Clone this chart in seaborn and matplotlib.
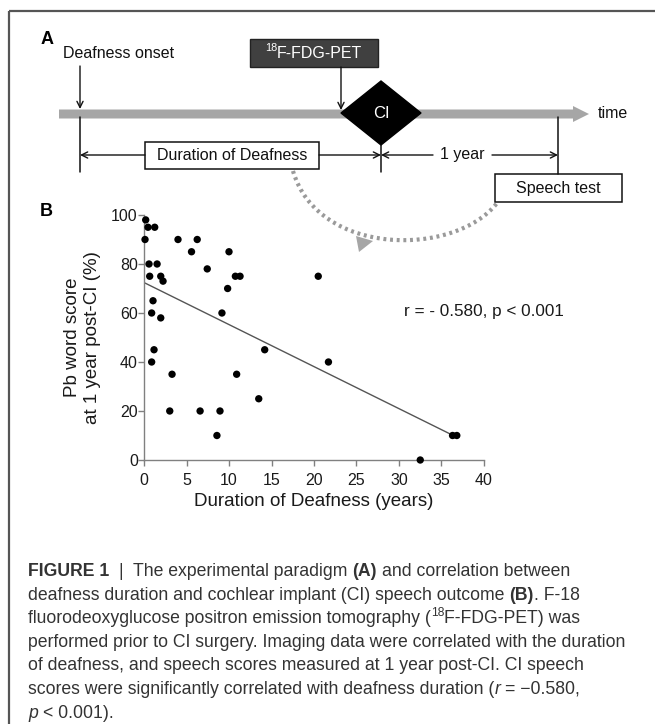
import numpy as np
import pandas as pd
import matplotlib
matplotlib.use("Agg")
import matplotlib.pyplot as plt
import seaborn as sns
from matplotlib.patches import Polygon, Rectangle, PathPatch
from matplotlib.path import Path

# ---------------- data ----------------
duration_years = [0.2, 0.47, 1.26, 0.12, 0.59, 1.54, 0.67, 1.97, 2.24, 1.06, 0.9, 1.97,
                  1.18, 0.9, 3.3, 3.03, 4.0, 6.26, 5.59, 7.44, 10.0, 9.84, 10.75, 11.3,
                  9.17, 10.9, 6.6, 8.94, 8.58, 14.2, 13.5, 20.5, 21.7, 36.3, 36.8, 32.5]
word_score = [98, 95, 95, 90, 80, 80, 75, 75, 73, 65, 60, 58,
              45, 40, 35, 20, 90, 90, 85, 78, 85, 70, 75, 75,
              60, 35, 20, 20, 10, 45, 25, 75, 40, 10, 10, 0]
x_ticks = [0, 5, 10, 15, 20, 25, 30, 35, 40]
y_ticks = [0, 20, 40, 60, 80, 100]
stat_label = "r = - 0.580, p < 0.001"

sns.set_theme(style="ticks")
plt.rcParams["font.family"] = ["Liberation Sans", "DejaVu Sans"]

W, H = 655, 724
fig = plt.figure(figsize=(W / 100, H / 100), dpi=100)
fig.patch.set_facecolor("white")

# overlay in pixel coordinates for the diagram / caption
ov = fig.add_axes([0, 0, 1, 1])
ov.set_xlim(0, W)
ov.set_ylim(H, 0)
ov.axis("off")

PX = 100 / 72.0  # px per pt
renderer = fig.canvas.get_renderer()


def draw_runs(x, y, runs, size, color):
    for txt, style in runs:
        lead = len(txt) - len(txt.lstrip(" "))
        trail = len(txt) - len(txt.rstrip(" "))
        core = txt.strip(" ")
        fs = size
        yy = y
        kw = {}
        if "b" in style:
            kw["fontweight"] = "bold"
        if "i" in style:
            kw["fontstyle"] = "italic"
        if "s" in style:
            fs = size * 0.68
            yy = y - size * PX * 0.42
        x += lead * 0.278 * fs * PX
        if core:
            t = ov.text(x, yy, core, fontsize=fs, color=color, ha="left",
                        va="baseline", **kw)
            bb = t.get_window_extent(renderer=renderer)
            x += bb.width
        x += trail * 0.278 * fs * PX
    return x


# outer frame (left and top)
ov.plot([9, 9], [11, H + 5], color="#555555", lw=1.6, solid_capstyle="butt")
ov.plot([9, W + 5], [11, 11], color="#555555", lw=1.6, solid_capstyle="butt")

# ---------------- panel A ----------------
txtc = "#111111"
ov.text(41, 40, "A", fontsize=13, fontweight="bold", va="center", ha="left", color="black")
ov.text(63, 54, "Deafness onset", fontsize=11.5, va="center", ha="left", color=txtc)

# timeline
band_half = 4.5
ov.add_patch(Polygon([[59, 114 - band_half], [573, 114 - band_half], [573, 106],
                      [589, 114], [573, 122], [573, 114 + band_half],
                      [59, 114 + band_half]], closed=True, facecolor="#a6a6a6",
                     edgecolor="none"))
ov.text(598, 113, "time", fontsize=11.5, va="center", ha="left", color=txtc)

arrow_kw = dict(arrowstyle="->", lw=1.0, color="#111111", shrinkA=0, shrinkB=0,
                mutation_scale=11)
ov.annotate("", xy=(80, 109), xytext=(80, 66), arrowprops=arrow_kw)

# PET box
ov.add_patch(Rectangle((250, 39), 128, 28, facecolor="#404040", edgecolor="#222222", lw=1))
draw_runs(265, 58, [("18", "s"), ("F-FDG-PET", "")], 11.5, "white")
ov.annotate("", xy=(341, 110), xytext=(341, 67), arrowprops=arrow_kw)

# CI diamond
cx, cy = 381, 113
ov.add_patch(Polygon([[cx - 40, cy], [cx, cy - 32], [cx + 40, cy], [cx, cy + 32]],
                     closed=True, facecolor="black", edgecolor="black"))
ov.text(cx, cy, "CI", fontsize=12, color="white", ha="center", va="center")

# vertical markers
ov.plot([80, 80], [117, 172], color="#111111", lw=1.1)
ov.plot([381, 381], [145, 172], color="#111111", lw=1.1)
ov.plot([558, 558], [117, 174], color="#111111", lw=1.1)

# duration arrows
ov.annotate("", xy=(80, 155), xytext=(145, 155), arrowprops=arrow_kw)
ov.annotate("", xy=(381, 155), xytext=(319, 155), arrowprops=arrow_kw)
ov.annotate("", xy=(381, 155), xytext=(433, 155), arrowprops=arrow_kw)
ov.annotate("", xy=(558, 155), xytext=(492, 155), arrowprops=arrow_kw)
ov.add_patch(Rectangle((145, 142), 174, 27, facecolor="white", edgecolor="#111111", lw=1.1))
ov.text(232, 155.5, "Duration of Deafness", fontsize=11.5, ha="center", va="center", color=txtc)
ov.text(462, 155, "1 year", fontsize=11.5, ha="center", va="center", color=txtc)

ov.add_patch(Rectangle((495, 174), 127, 28, facecolor="white", edgecolor="#111111", lw=1.1))
ov.text(558.5, 188, "Speech test", fontsize=11.5, ha="center", va="center", color=txtc)

# dotted curved arrow
verts = [(293, 171), (318, 257), (455, 257), (497, 203)]
path = Path(verts, [Path.MOVETO, Path.CURVE4, Path.CURVE4, Path.CURVE4])
ov.add_patch(PathPatch(path, facecolor="none", edgecolor="#9a9a9a", lw=3,
                       linestyle=(0, (0.7, 0.9))))
ov.add_patch(Polygon([[356, 236], [373, 241], [359, 252]], closed=True,
                     facecolor="#a6a6a6", edgecolor="none"))

# ---------------- panel B ----------------
ov.text(40, 212, "B", fontsize=13, fontweight="bold", va="center", ha="left", color="black")

df = pd.DataFrame({"dur": duration_years, "score": word_score})
ax = fig.add_axes([144 / W, 1 - 460 / H, 340 / W, 245 / H])
ax.set_facecolor("none")
sns.regplot(data=df, x="dur", y="score", scatter=False, ci=None, truncate=True,
            color="#555555", line_kws=dict(lw=1.0), ax=ax)
sns.scatterplot(data=df, x="dur", y="score", color="black", s=28, edgecolor="none",
                clip_on=False, zorder=3, ax=ax, legend=False)
ax.set_xlim(0, 40)
ax.set_ylim(0, 100)
ax.set_xticks(x_ticks)
ax.set_yticks(y_ticks)
sns.despine(ax=ax)
for s in ["left", "bottom"]:
    ax.spines[s].set_color("#808080")
    ax.spines[s].set_linewidth(1.0)
ax.tick_params(direction="out", length=4, width=1, color="#808080",
               labelsize=11.5, labelcolor="#1a1a1a")
ax.tick_params(axis="x", pad=5)
ax.tick_params(axis="y", pad=0.5)
ax.set_xlabel("Duration of Deafness (years)", fontsize=13.5, labelpad=4, color="#1a1a1a")
ax.set_ylabel("Pb word score\nat 1 year post-CI (%)", fontsize=13.5, labelpad=7,
              color="#1a1a1a", linespacing=1.25)
ax.text(30.6, 60.5, stat_label, fontsize=12.3, va="center", ha="left", color="#1a1a1a")

# ---------------- caption ----------------
cap = "#333333"
cs = 12.7
x0 = 28
lines = [
    [("FIGURE 1", "b"), ("  |  The experimental paradigm ", ""), ("(A)", "b"),
     (" and correlation between", "")],
    [("deafness duration and cochlear implant (CI) speech outcome ", ""), ("(B)", "b"),
     (". F-18", "")],
    [("fluorodeoxyglucose positron emission tomography (", ""), ("18", "s"),
     ("F-FDG-PET) was", "")],
    [("performed prior to CI surgery. Imaging data were correlated with the duration", "")],
    [("of deafness, and speech scores measured at 1 year post-CI. CI speech", "")],
    [("scores were significantly correlated with deafness duration (", ""), ("r", "i"),
     (" = \u22120.580,", "")],
    [("p", "i"), (" < 0.001).", "")],
]
base0 = 576
step = 23.6
for i, runs in enumerate(lines):
    draw_runs(x0, base0 + i * step, runs, cs, cap)

fig.savefig("out.png", dpi=100, facecolor="white")
